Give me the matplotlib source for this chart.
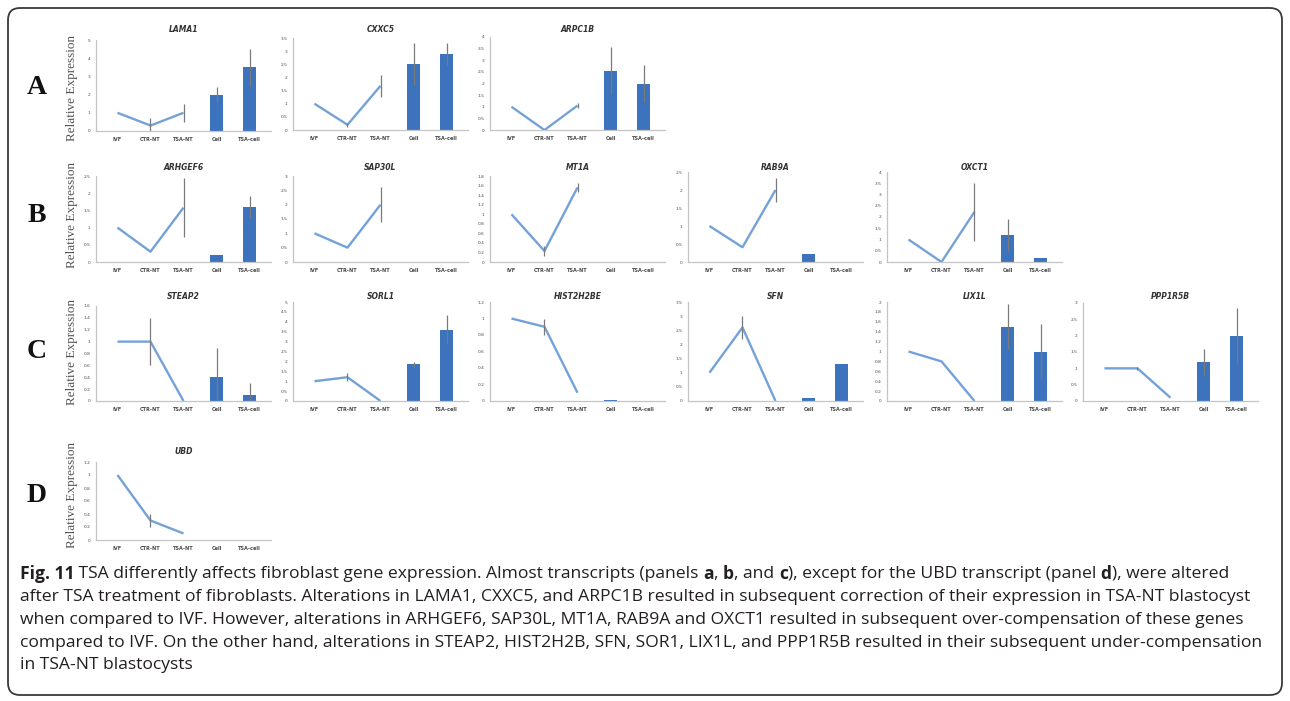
import matplotlib
matplotlib.use("Agg")
import matplotlib.pyplot as plt
import numpy as np
from matplotlib.patches import FancyBboxPatch

# ---------------- data ----------------
categories = ["IVF", "CTR-NT", "TSA-NT", "Cell", "TSA-cell"]

lama1_vals = [1.0, 0.3, 1.0, 2.0, 3.5]
lama1_err = [0, 0.4, 0.5, 0.4, 1.0]
cxxc5_vals = [1.0, 0.2, 1.68, 2.5, 2.9]
cxxc5_err = [0, 0.07, 0.43, 0.8, 0.42]
arpc1b_vals = [1.0, 0.0, 1.05, 2.55, 2.0]
arpc1b_err = [0, 0, 0.12, 1.0, 0.8]

arhgef6_vals = [1.0, 0.3, 1.58, 0.19, 1.6]
arhgef6_err = [0, 0, 0.85, 0, 0.31]
sap30l_vals = [1.0, 0.5, 2.0, 0.01, 0.01]
sap30l_err = [0, 0, 0.62, 0, 0]
mt1a_vals = [1.0, 0.23, 1.56, 0.01, 0.01]
mt1a_err = [0, 0.11, 0.1, 0, 0]
rab9a_vals = [1.0, 0.41, 2.0, 0.23, 0.01]
rab9a_err = [0, 0, 0.32, 0, 0]
oxct1_vals = [1.0, 0.0, 2.23, 1.2, 0.2]
oxct1_err = [0, 0, 1.3, 0.72, 0]

steap2_vals = [1.0, 1.0, 0.0, 0.4, 0.1]
steap2_err = [0, 0.4, 0, 0.5, 0.2]
sorl1_vals = [1.0, 1.2, 0.0, 1.85, 3.6]
sorl1_err = [0, 0.2, 0, 0.13, 0.73]
hist2h2be_vals = [1.0, 0.9, 0.1, 0.01, 0.005]
hist2h2be_err = [0, 0.1, 0, 0, 0]
sfn_vals = [1.0, 2.6, 0.0, 0.1, 1.3]
sfn_err = [0, 0.41, 0, 0, 0]
lix1l_vals = [1.0, 0.8, 0.0, 1.5, 1.0]
lix1l_err = [0, 0, 0, 0.45, 0.55]
ppp1r5b_vals = [1.0, 1.0, 0.1, 1.2, 2.0]
ppp1r5b_err = [0, 0.05, 0, 0.4, 0.85]

ubd_vals = [1.0, 0.3, 0.1, 0.005, 0.005]
ubd_err = [0, 0.1, 0, 0, 0]

yticks_info = {
    "LAMA1": (5, 1), "CXXC5": (3.5, 0.5), "ARPC1B": (4, 0.5),
    "ARHGEF6": (2.5, 0.5), "SAP30L": (3, 0.5), "MT1A": (1.8, 0.2),
    "RAB9A": (2.5, 0.5), "OXCT1": (4, 0.5),
    "STEAP2": (1.6, 0.2), "SORL1": (5, 0.5), "HIST2H2BE": (1.2, 0.2),
    "SFN": (3.5, 0.5), "LIX1L": (2, 0.2), "PPP1R5B": (3, 0.5),
    "UBD": (1.2, 0.2),
}

panels = [
    ("LAMA1", lama1_vals, lama1_err),
    ("CXXC5", cxxc5_vals, cxxc5_err),
    ("ARPC1B", arpc1b_vals, arpc1b_err),
    ("ARHGEF6", arhgef6_vals, arhgef6_err),
    ("SAP30L", sap30l_vals, sap30l_err),
    ("MT1A", mt1a_vals, mt1a_err),
    ("RAB9A", rab9a_vals, rab9a_err),
    ("OXCT1", oxct1_vals, oxct1_err),
    ("STEAP2", steap2_vals, steap2_err),
    ("SORL1", sorl1_vals, sorl1_err),
    ("HIST2H2BE", hist2h2be_vals, hist2h2be_err),
    ("SFN", sfn_vals, sfn_err),
    ("LIX1L", lix1l_vals, lix1l_err),
    ("PPP1R5B", ppp1r5b_vals, ppp1r5b_err),
    ("UBD", ubd_vals, ubd_err),
]

# ---------------- layout (pixels) ----------------
W, H = 1290, 701
cols = [96, 293, 490, 688, 887, 1083]
AX_W = 175
# name: (col index, top px, bottom px, title y px)
layout = {
    "LAMA1": (0, 40, 131, 30), "CXXC5": (1, 38, 130, 30), "ARPC1B": (2, 37, 130, 30),
    "ARHGEF6": (0, 176, 262, 167), "SAP30L": (1, 176, 262, 167), "MT1A": (2, 176, 262, 167),
    "RAB9A": (3, 172, 262, 167), "OXCT1": (4, 172, 262, 167),
    "STEAP2": (0, 306, 401, 296), "SORL1": (1, 302, 401, 296), "HIST2H2BE": (2, 302, 401, 296),
    "SFN": (3, 302, 401, 296), "LIX1L": (4, 302, 401, 296), "PPP1R5B": (5, 303, 401, 296),
    "UBD": (0, 462, 540, 451),
}

LINE_C = "#74a2d8"
BAR_C = "#3d72bd"
ERR_C = "#7a7a7a"
SPINE_C = "#c4c4c4"
TXT_C = "#4a4a4a"

fig = plt.figure(figsize=(W / 100, H / 100), dpi=100)
fig.patch.set_facecolor("white")

# background frame
bg = fig.add_axes([0, 0, 1, 1], zorder=-10)
bg.set_xlim(0, W)
bg.set_ylim(H, 0)
bg.axis("off")
bg.add_patch(FancyBboxPatch((8, 8), W - 16, H - 14,
                            boxstyle="round,pad=0,rounding_size=12",
                            fc="white", ec="#3a3a3a", lw=1.3))

x = np.arange(len(categories))
for name, vals, errs in panels:
    ci, top, bot, ty = layout[name]
    left = cols[ci]
    ax = fig.add_axes([left / W, 1 - bot / H, AX_W / W, (bot - top) / H])
    ymax, step = yticks_info[name]
    vals = np.array(vals, float)
    errs = np.array(errs, float)
    ax.plot(x[:3], vals[:3], color=LINE_C, lw=1.7, solid_capstyle="butt", zorder=2)
    m = errs[:3] > 0
    if m.any():
        ax.errorbar(x[:3][m], vals[:3][m], yerr=errs[:3][m], fmt="none",
                    ecolor=ERR_C, elinewidth=0.9, capsize=0, zorder=3)
    ax.bar(x[3:], vals[3:], width=0.4, color=BAR_C, zorder=2)
    m = errs[3:] > 0
    if m.any():
        ax.errorbar(x[3:][m], vals[3:][m], yerr=errs[3:][m], fmt="none",
                    ecolor=ERR_C, elinewidth=0.9, capsize=0, zorder=3)
    ax.set_xlim(-0.65, 4.65)
    ax.set_ylim(0, ymax)
    ticks = np.round(np.arange(0, ymax + step / 2, step), 2)
    ax.set_yticks(ticks)
    ax.set_yticklabels([f"{t:g}" for t in ticks], fontsize=3.2, color=TXT_C)
    ax.set_xticks(x)
    ax.set_xticklabels(categories, fontsize=3.6, color=TXT_C, fontweight="bold")
    ax.tick_params(axis="both", length=0)
    ax.tick_params(axis="y", pad=4)
    ax.tick_params(axis="x", pad=4)
    for s in ("top", "right"):
        ax.spines[s].set_visible(False)
    for s in ("left", "bottom"):
        ax.spines[s].set_color(SPINE_C)
        ax.spines[s].set_linewidth(0.9)
    ax.patch.set_alpha(0)
    fig.text((left + AX_W / 2) / W, 1 - ty / H, name, ha="center", va="center",
             fontsize=5.5, fontweight="bold", style="italic", color="#333333")

# row letters and y labels
rows = [("A", 88), ("B", 215), ("C", 352), ("D", 495)]
for letter, yc in rows:
    fig.text(37 / W, 1 - yc / H, letter, ha="center", va="center",
             fontsize=20, fontweight="bold", family="Liberation Serif", color="#111111")
    fig.text(72 / W, 1 - yc / H, "Relative Expression", ha="center", va="center",
             rotation=90, fontsize=9.5, family="Liberation Serif", color="#555555")

# ---------------- caption ----------------
B, N = "bold", "normal"
caption_lines = [
    [("Fig. 11", B), (" TSA differently affects fibroblast gene expression. Almost transcripts (panels ", N),
     ("a", B), (", ", N), ("b", B), (", and ", N), ("c", B),
     ("), except for the UBD transcript (panel ", N), ("d", B), ("), were altered", N)],
    [("after TSA treatment of fibroblasts. Alterations in LAMA1, CXXC5, and ARPC1B resulted in subsequent correction of their expression in TSA-NT blastocyst", N)],
    [("when compared to IVF. However, alterations in ARHGEF6, SAP30L, MT1A, RAB9A and OXCT1 resulted in subsequent over-compensation of these genes", N)],
    [("compared to IVF. On the other hand, alterations in STEAP2, HIST2H2B, SFN, SOR1, LIX1L, and PPP1R5B resulted in their subsequent under-compensation", N)],
    [("in TSA-NT blastocysts", N)],
]
line_y = [574, 597, 620, 643, 665]
renderer = fig.canvas.get_renderer()
CAP_FS = 12.6
for segs, yp in zip(caption_lines, line_y):
    xp = 20.0
    for txt, wt in segs:
        t = fig.text(xp / W, 1 - yp / H, txt, ha="left", va="center", fontsize=CAP_FS,
                     fontweight=wt, family="Open Sans", color="#231f20")
        bb = t.get_window_extent(renderer=renderer)
        xp = bb.x1

fig.savefig("out.png", dpi=100, facecolor="white")
